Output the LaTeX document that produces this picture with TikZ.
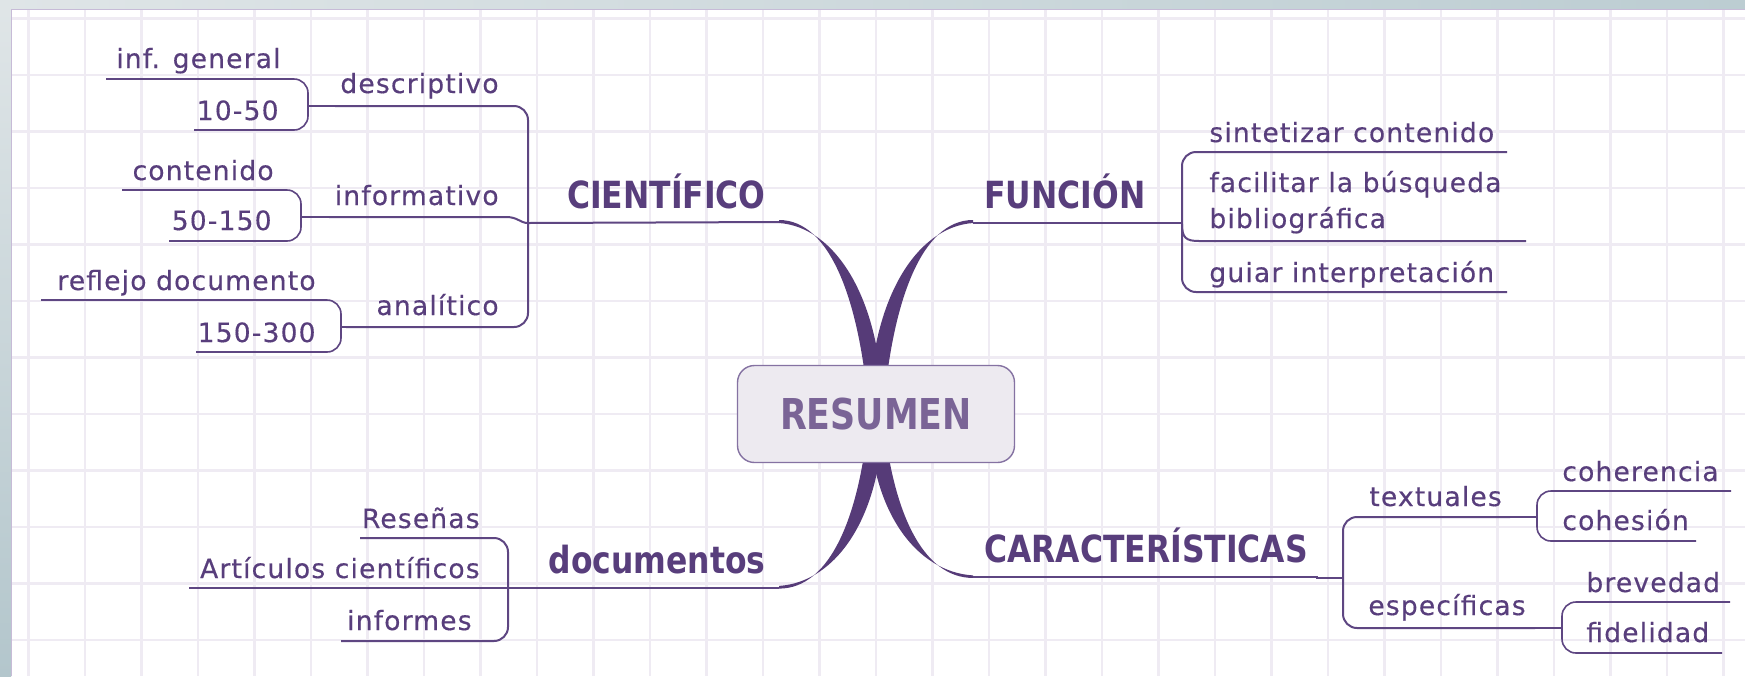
\documentclass[tikz,border=0pt]{standalone}
\usepackage{fontspec}
\setmainfont{DejaVu Sans}
\newfontfamily\regf{DejaVu Sans}[LetterSpace=4.5,FakeBold=0.4]
\newfontfamily\bldf{DejaVu Sans}
\definecolor{txt}{HTML}{583E7C}
\definecolor{ln}{HTML}{5E4682}
\definecolor{thk}{HTML}{563B78}
\definecolor{gridc}{HTML}{EFEBF3}
\definecolor{boxfill}{HTML}{EDEAF0}
\definecolor{boxline}{HTML}{8572A2}
\definecolor{rtxt}{HTML}{7A6496}
\definecolor{frameA}{HTML}{DFE5E7}
\definecolor{frameB}{HTML}{BCCDD2}
\definecolor{frameC}{HTML}{B3C6CC}
\definecolor{frameline}{HTML}{C7BBD7}
\newcommand\branchfill{\fill[thk] (-97,-194) .. controls (-46,-194) and (-16,-114) .. (-7,0) -- (7,0) .. controls (6,-114) and (-40,-187) .. (-97,-191) -- cycle;}
\newcommand\bigtext[1]{\scalebox{0.84}[1]{#1}}
\tikzset{
  lab/.style={text=txt, inner sep=0pt, font=\regf\fontsize{13.25}{18}\selectfont},
  big/.style={text=txt, inner sep=0pt, font=\bldf\bfseries\fontsize{18.7}{22}\selectfont},
  uline/.style={draw=ln, line width=1pt},
  brk/.style={draw=ln, line width=0.8pt, rounded corners=7pt},
  conn/.style={draw=ln, line width=1.4pt},
  gridline/.style={draw=gridc, line width=1.3pt}
}
\begin{document}
\begin{tikzpicture}[x=0.5pt,y=-0.5pt]
\useasboundingbox (0,0) rectangle (1745,676);
\fill[white] (0,0) rectangle (1745,676);
% grid
\foreach \i in {0,...,30} \draw[gridline] ({28.3+56.5*\i},10) -- ({28.3+56.5*\i},676);
\foreach \j in {0,...,11} \draw[gridline] (12,{18.5+56.5*\j}) -- (1745,{18.5+56.5*\j});
% frame
\shade[left color=frameA, right color=frameB] (0,0) rectangle (1745,9);
\shade[top color=frameA, bottom color=frameC] (0,9) rectangle (11,676);
\draw[frameline, line width=0.8pt] (11.5,676) -- (11.5,9.5) -- (1745,9.5);
% thick main branches
\coordinate (c) at (876,414);
\begin{scope}[shift={(c)}]
  \branchfill
\end{scope}
\begin{scope}[shift={(c)}, xscale=-1]
  \branchfill
\end{scope}
\begin{scope}[shift={(c)}, yscale=-0.9]
  \branchfill
\end{scope}
\begin{scope}[shift={(c)}, xscale=-1, yscale=-0.845]
  \branchfill
\end{scope}
% root
\node[draw=boxline, fill=boxfill, rounded corners=8.5pt, line width=0.7pt,
      minimum width=138.5pt, minimum height=48.5pt, text=rtxt, inner sep=0pt,
      font=\bldf\bfseries\fontsize{21.25}{24}\selectfont] (root) at (c) {\scalebox{0.82}[1]{RESUMEN}};

% ---------- CIENTIFICO ----------
\node[big, anchor=base east] (cien) at (766,208) {\bigtext{CIENTÍFICO}};
\node[lab, anchor=base east] (desc) at (499,93) {descriptivo};
\node[lab, anchor=base east] (info) at (499,205) {informativo};
\node[lab, anchor=base east] (anal) at (499,315) {analítico};
\node[lab, anchor=base east] (infg) at (281,68) {inf. general};
\node[lab, anchor=base east] (d1050) at (279,120) {10-50};
\node[lab, anchor=base east] (cont) at (274,180) {contenido};
\node[lab, anchor=base east] (d50150) at (272,230) {50-150};
\node[lab, anchor=base east] (refl) at (316,290) {reflejo documento};
\node[lab, anchor=base east] (d150300) at (316,342) {150-300};
\draw[uline] (528,223) -- (779,222);
\draw[brk, line width=1pt] (335,106) -- (528,106) -- (528,327) -- (346,327);
\draw[uline] (329,217) -- (506,217) .. controls (518,217) and (520,223) .. (528,223);
\draw[brk] (106,79) -- (308,79) -- (308,130) -- (194,130);
\draw[uline] (106,79) -- (294,79);
\draw[uline] (194,130) -- (294,130);
\draw[conn] (308,106) -- (335,106);
\draw[brk] (122,190) -- (301,190) -- (301,241) -- (169,241);
\draw[uline] (122,190) -- (287,190);
\draw[uline] (169,241) -- (287,241);
\draw[conn] (301,217) -- (329,217);
\draw[brk] (41,300) -- (341,300) -- (341,352) -- (196,352);
\draw[uline] (41,300) -- (327,300);
\draw[uline] (196,352) -- (327,352);
\draw[conn] (341,327) -- (352,327);

% ---------- FUNCION ----------
\node[big, anchor=base west] (func) at (984,208) {\bigtext{FUNCIÓN}};
\node[lab, anchor=base west] (sint) at (1209,142) {sintetizar contenido};
\node[lab, anchor=base west] (faci) at (1209,192) {facilitar la búsqueda};
\node[lab, anchor=base west] (bibl) at (1209,228) {bibliográfica};
\node[lab, anchor=base west] (guia) at (1209,282) {guiar interpretación};
\draw[uline] (973,223) -- (1182,223);
\draw[brk, line width=1pt] (1507,152) -- (1182,152) -- (1182,292) -- (1507,292);
\draw[uline] (1182,224) .. controls (1182,238) and (1186,241) .. (1199,241) -- (1526,241);

% ---------- CARACTERISTICAS ----------
\node[big, anchor=base west] (cara) at (984,562) {\bigtext{CARACTERÍSTICAS}};
\node[lab, anchor=base west] (text) at (1369,506) {textuales};
\node[lab, anchor=base west] (espe) at (1368,615) {específicas};
\node[lab, anchor=base west] (cohe) at (1562,481) {coherencia};
\node[lab, anchor=base west] (cohs) at (1562,530) {cohesión};
\node[lab, anchor=base west] (brev) at (1586,592) {brevedad};
\node[lab, anchor=base west] (fide) at (1586,642) {fidelidad};
\draw[uline] (973,577) -- (1318,577);
\draw[conn] (1316,578) -- (1343,578);
\draw[brk, line width=1pt] (1510,517) -- (1343,517) -- (1343,628) -- (1535,628);
\draw[conn] (1508,517) -- (1537,517);
\draw[conn] (1533,628) -- (1562,628);
\draw[brk] (1731,491) -- (1537,491) -- (1537,541) -- (1696,541);
\draw[uline] (1551,491) -- (1731,491);
\draw[uline] (1551,541) -- (1696,541);
\draw[brk] (1730,602) -- (1562,602) -- (1562,653) -- (1722,653);
\draw[uline] (1576,602) -- (1730,602);
\draw[uline] (1576,653) -- (1722,653);

% ---------- documentos ----------
\node[big, anchor=base east] (docu) at (766,573) {\bigtext{documentos}};
\node[lab, anchor=base east] (rese) at (480,528) {Reseñas};
\node[lab, anchor=base east] (arti) at (480,578) {Artículos científicos};
\node[lab, anchor=base east] (info2) at (472,630) {informes};
\draw[uline] (189,588) -- (779,588);
\draw[brk, line width=1pt] (360,538) -- (508,538) -- (508,641) -- (341,641);
\draw[uline] (360,538) -- (494,538);
\draw[uline] (341,641) -- (494,641);
\end{tikzpicture}
\end{document}
